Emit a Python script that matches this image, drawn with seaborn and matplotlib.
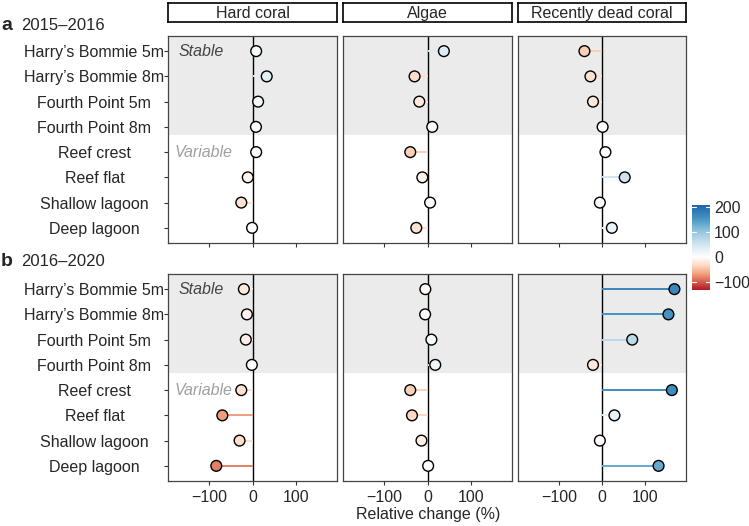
import matplotlib
matplotlib.use('Agg')
from matplotlib import pyplot as plt
from matplotlib.colors import LinearSegmentedColormap, TwoSlopeNorm
import matplotlib.transforms as mtransforms
import numpy as np
import pandas as pd
import seaborn as sns

# data
sites = ["Harry\u2019s Bommie 5m", "Harry\u2019s Bommie 8m", "Fourth Point 5m", "Fourth Point 8m",
         "Reef crest", "Reef flat", "Shallow lagoon", "Deep lagoon"]
categories = ["Hard coral", "Algae", "Recently dead coral"]
periods = ["2015\u20132016", "2016\u20132020"]
panel_tags = ["a", "b"]

hard_coral_1516 = [8.5, 33, 13, 8, 8.5, -11, -26, -1]
algae_1516 = [38, -30, -19, 11, -40, -12, 6, -26]
dead_coral_1516 = [-41, -27, -21, 1.5, 8, 53, -5, 23]

hard_coral_1620 = [-20, -13, -15.5, -1.5, -26, -70, -30, -84]
algae_1620 = [-5, -5.5, 9, 18, -40, -36, -14, 1.5]
dead_coral_1620 = [169, 155, 70.5, -21, 163, 29, -5, 132]

cbar_ticks = [-100, 0, 100, 200]
x_ticks = [-100, 0, 100]

values = {
    periods[0]: [hard_coral_1516, algae_1516, dead_coral_1516],
    periods[1]: [hard_coral_1620, algae_1620, dead_coral_1620],
}
rows = []
for period in periods:
    for cat, vals in zip(categories, values[period]):
        for i, (site, v) in enumerate(zip(sites, vals)):
            rows.append({'period': period, 'category': cat, 'site': site, 'pos': i, 'change': v})
df = pd.DataFrame(rows)

# red-white-blue scale, white at zero
rdbu = ['#b2182b', '#d6604d', '#f4a582', '#fddbc7', '#ffffff', '#d1e5f0', '#92c5de', '#4393c3', '#2166ac']
cmap = LinearSegmentedColormap.from_list('rdbu', rdbu)
norm = TwoSlopeNorm(vmin=-132, vcenter=0, vmax=208)

sns.set_theme(style='white')
plt.rcParams['font.family'] = ['Liberation Sans', 'DejaVu Sans']
fs = 11.5

W, H = 749, 526
fig = plt.figure(figsize=(W / 100, H / 100), dpi=100)


def px_axes(x0, y0, x1, y1):
    return fig.add_axes([x0 / W, 1 - y1 / H, (x1 - x0) / W, (y1 - y0) / H])


col_x = [(168, 337), (343, 512), (518, 686)]
row_y = [(36, 243), (274, 481)]
n = len(sites)

for r, period in enumerate(periods):
    for c, cat in enumerate(categories):
        ax = px_axes(col_x[c][0], row_y[r][0], col_x[c][1], row_y[r][1])
        sub = df[(df.period == period) & (df.category == cat)]
        ax.axhspan(-0.6, 3.32, color='#ebebeb', lw=0, zorder=0)
        ax.axvline(0, color='black', lw=1, zorder=1)
        ax.hlines(sub['pos'], 0, sub['change'], colors=cmap(norm(sub['change'].values)), lw=1.4, zorder=2)
        sns.scatterplot(data=sub, x='change', y='pos', hue='change', palette=cmap, hue_norm=norm,
                        s=60, edgecolor='black', linewidth=1, legend=False, ax=ax, zorder=3)
        ax.set_xlim(-196, 196)
        ax.set_ylim(n - 0.4, -0.6)
        ax.set_xticks(x_ticks)
        ax.set_xlabel('')
        ax.set_ylabel('')
        ax.tick_params(axis='both', length=3, width=0.8, color='#333333', direction='out',
                       bottom=True, left=(c == 0))
        if r == 1:
            ax.set_xticklabels(['\u2212100', '0', '100'], fontsize=fs)
        else:
            ax.set_xticklabels([])
        ax.set_yticks(range(n))
        if c == 0:
            ax.set_yticklabels(sites, fontsize=fs)
            for lab in ax.get_yticklabels():
                lab.set_horizontalalignment('center')
            ax.tick_params(axis='y', pad=50)
            tr = mtransforms.blended_transform_factory(ax.transAxes, ax.transData)
            ax.text(0.065, 0, 'Stable', style='italic', color='#444444', ha='left', va='center',
                    fontsize=fs, transform=tr)
            ax.text(0.04, 4, 'Variable', style='italic', color='#a0a0a0', ha='left', va='center',
                    fontsize=fs, transform=tr)
        else:
            ax.set_yticklabels([])
        for s in ax.spines.values():
            s.set_color('#444444')
            s.set_linewidth(0.9)
        if r == 0:
            sax = px_axes(col_x[c][0], 3, col_x[c][1], 22)
            sax.set_xticks([])
            sax.set_yticks([])
            for s in sax.spines.values():
                s.set_color('black')
                s.set_linewidth(1.2)
            sax.text(0.5, 0.45, cat, ha='center', va='center', fontsize=fs, transform=sax.transAxes)
    ytext = 1 - (25 if r == 0 else 261) / H
    fig.text(1 / W, ytext, panel_tags[r], fontweight='bold', fontsize=14, ha='left', va='center')
    fig.text(21 / W, ytext, period, fontsize=12, ha='left', va='center')

fig.text(428 / W, 1 - 515 / H, 'Relative change (%)', ha='center', va='center', fontsize=fs)

# colour bar
cax = px_axes(692, 205, 710, 290)
grad = np.linspace(-132, 208, 300)[:, None]
cax.imshow(grad, cmap=cmap, norm=norm, aspect='auto', origin='lower', extent=[0, 1, -132, 208])
cax.set_xticks([])
cax.yaxis.tick_right()
cax.set_yticks(cbar_ticks)
cax.set_yticklabels(['\u2212100', '0', '100', '200'], fontsize=fs)
cax.tick_params(axis='y', length=0, pad=3)
for s in cax.spines.values():
    s.set_visible(False)
for t in cbar_ticks:
    cax.plot([0, 0.2], [t, t], color='white', lw=0.8)
    cax.plot([0.8, 1], [t, t], color='white', lw=0.8)
cax.set_xlim(0, 1)
cax.set_ylim(-132, 208)

fig.savefig('out.png', dpi=100)
